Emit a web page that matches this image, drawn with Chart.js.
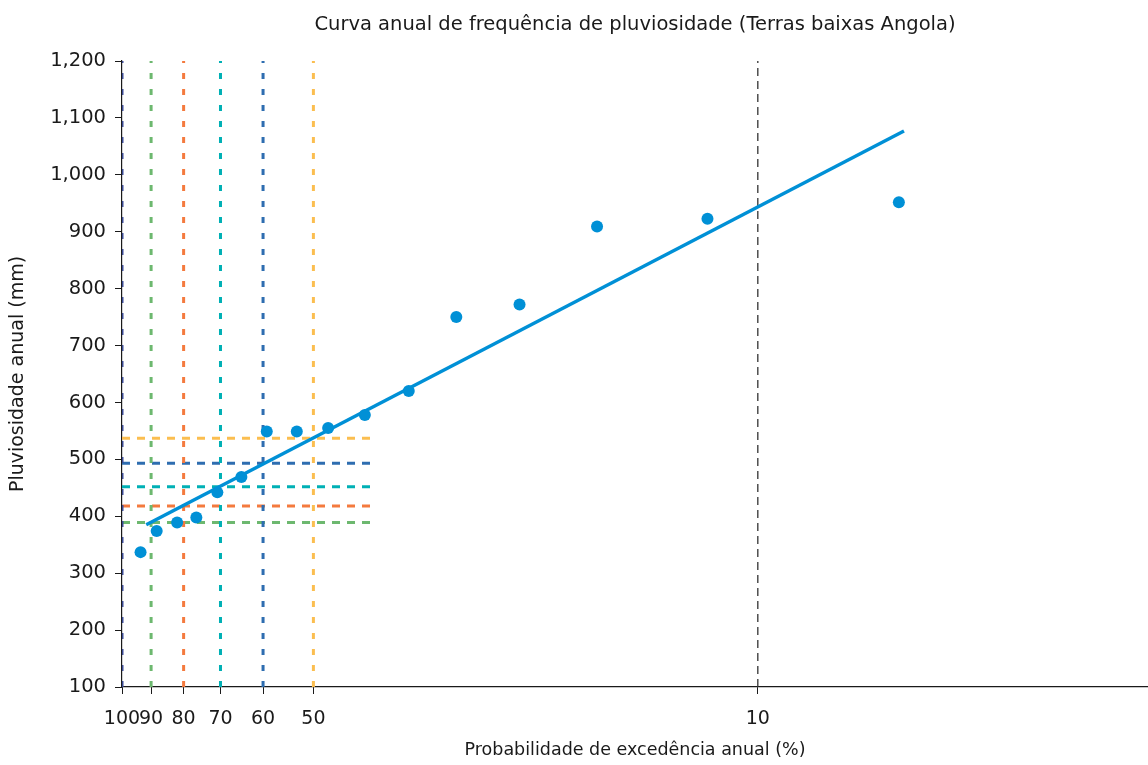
<!DOCTYPE html>
<html lang="pt">
<head>
<meta charset="UTF-8">
<title>Curva anual de frequência de pluviosidade</title>
<script src="https://cdn.jsdelivr.net/npm/chart.js@4.4.1/dist/chart.umd.min.js"></script>
<style>
    html, body { margin: 0; background: #fff; overflow: hidden; }
    #wrap { position: absolute; left: 0; top: 0; width: 1148px; height: 765px; }
</style>
</head>
<body>
<div id="wrap"><canvas id="freqChart"></canvas></div>
<script>
// valores
const probabilidade = [93.5, 88.2, 81.9, 76.4, 70.8, 64.9, 59.2, 53.1, 47.4, 41.5, 35.4, 29.8, 23.7, 17.9, 12.0, 6.0];
const pluviosidade = [337, 374, 389, 398, 442, 469, 549, 549, 555, 578, 620, 750, 772, 909, 923, 952];

// recta de ajuste (início e fim)
const ajusteProb = [91.6, 5.89];
const ajusteChuva = [385, 1077];

// linhas de referência
const refProb = [100, 90, 80, 70, 60, 50];
const refChuva = [null, 389, 418, 452, 493, 537];
const refFim = 40;
const linha10 = 10;

const xTicks = [100, 90, 80, 70, 60, 50, 10];
const yMin = 100, yMax = 1200, yStep = 100;

const refCores = ['#3c4c96', '#6db86f', '#f47a3e', '#00b0b5', '#2e6db0', '#fbbe50'];
const azul = '#0090d6';
const tinta = '#1a1a1a';

const datasets = [];

datasets.push({
    label: 'Observado',
    data: probabilidade.map((p, i) => ({ x: p, y: pluviosidade[i] })),
    backgroundColor: azul,
    borderWidth: 0,
    pointRadius: 6
});

datasets.push({
    label: 'Ajuste',
    data: ajusteProb.map((p, i) => ({ x: p, y: ajusteChuva[i] })),
    showLine: true,
    borderColor: azul,
    borderWidth: 3.5,
    pointRadius: 0
});

// verticais
refProb.forEach((p, i) => {
    datasets.push({
        data: [{ x: p, y: yMin }, { x: p, y: yMax }],
        showLine: true,
        borderColor: refCores[i],
        borderWidth: 3,
        borderDash: [6, 10],
        pointRadius: 0
    });
});

// horizontais
refProb.forEach((p, i) => {
    if (refChuva[i] == null) return;
    datasets.push({
        data: [{ x: 100, y: refChuva[i] }, { x: refFim, y: refChuva[i] }],
        showLine: true,
        borderColor: refCores[i],
        borderWidth: 3,
        borderDash: [8, 7],
        pointRadius: 0
    });
});

datasets.push({
    data: [{ x: linha10, y: yMin }, { x: linha10, y: yMax }],
    showLine: true,
    borderColor: '#333',
    borderWidth: 1.3,
    borderDash: [8, 5],
    pointRadius: 0
});

new Chart(document.getElementById('freqChart'), {
    type: 'scatter',
    data: { datasets: datasets },
    options: {
        responsive: true,
        maintainAspectRatio: false,
        animation: false,
        layout: { autoPadding: false, padding: 0 },
        plugins: {
            legend: { display: false },
            tooltip: { enabled: false }
        },
        scales: {
            x: {
                type: 'logarithmic',
                reverse: true,
                min: 2.434,
                max: 100,
                afterBuildTicks: s => { s.ticks = xTicks.map(v => ({ value: v })); },
                afterFit: s => { s.height = 78; },
                ticks: {
                    autoSkip: false,
                    maxRotation: 0,
                    minRotation: 0,
                    padding: 14,
                    color: tinta,
                    font: { family: 'DejaVu Sans', size: 19 },
                    callback: v => String(v)
                },
                grid: { drawOnChartArea: false, tickLength: 7, color: tinta },
                border: { color: tinta, width: 1.2 },
                title: {
                    display: true,
                    text: 'Probabilidade de excedência anual (%)',
                    color: tinta,
                    font: { family: 'DejaVu Sans', size: 17.5 },
                    padding: { top: 0, bottom: 4 }
                }
            },
            topo: {
                type: 'linear',
                position: 'top',
                afterFit: s => { s.height = 61; },
                ticks: { display: false },
                grid: { display: false },
                border: { display: false },
                title: {
                    display: true,
                    text: 'Curva anual de frequência de pluviosidade (Terras baixas Angola)',
                    color: tinta,
                    font: { family: 'DejaVu Sans', size: 19.5 },
                    padding: { top: 13, bottom: 0 }
                }
            },
            y: {
                min: yMin,
                max: yMax,
                afterFit: s => { s.width = 122; },
                ticks: {
                    stepSize: yStep,
                    padding: 9,
                    color: tinta,
                    font: { family: 'DejaVu Sans', size: 19.5 },
                    callback: v => v.toLocaleString('en-US')
                },
                grid: { drawOnChartArea: false, tickLength: 7, color: tinta },
                border: { color: tinta, width: 1.2 },
                title: {
                    display: true,
                    text: 'Pluviosidade anual (mm)',
                    color: tinta,
                    font: { family: 'DejaVu Sans', size: 19 },
                    padding: { top: 7, bottom: 0 }
                }
            }
        }
    }
});
</script>
</body>
</html>
